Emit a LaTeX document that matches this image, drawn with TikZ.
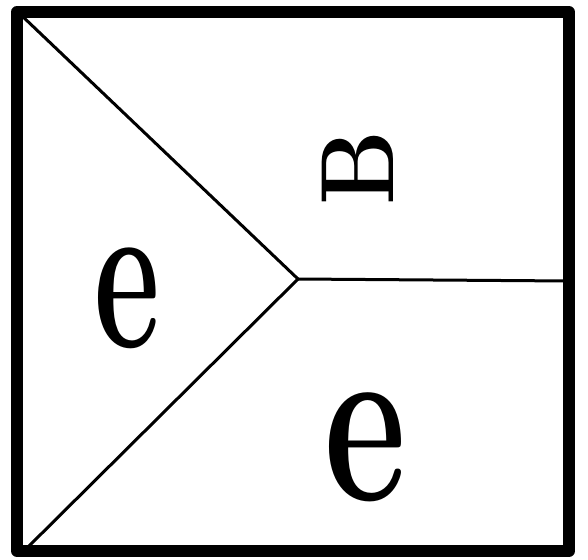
\documentclass[tikz,border=0pt]{standalone}
\usepackage{tikz}
\usetikzlibrary{calc}
\tikzset{
  frame/.style={draw=black, line width=12pt, line join=round},
  bound/.style={draw=black, line width=3pt, line cap=round},
  grain/.style={inner sep=0pt, font=\fontsize{200}{200}\selectfont\bfseries}
}

\begin{document}
\begin{tikzpicture}[x=1pt, y=-1pt]
    \useasboundingbox (0,0) rectangle (588,559);
    \coordinate (tl) at (17,12);
    \coordinate (tr) at (569,12);
    \coordinate (br) at (569,551);
    \coordinate (bl) at (17,551);
    \coordinate (jn) at (298,279);
    \coordinate (re) at (569,281);
    \coordinate (ul) at (20,14);
    \coordinate (ll) at (26,549);

    % grain boundaries
    \draw[bound] (ul) -- (jn);
    \draw[bound] (ll) -- (jn);
    \draw[bound] (jn) -- (re);

    % grains
    \node[grain, rotate=90] (gB) at (358,168) {\scalebox{0.47}[0.52]{B}};
    \node[grain] (gL) at (127,298) {\scalebox{0.64}[1.1]{e}};
    \node[grain] (gR) at (366,447) {\scalebox{0.8}[1.19]{e}};

    \draw[frame] (tl) rectangle (br);
\end{tikzpicture}
\end{document}
